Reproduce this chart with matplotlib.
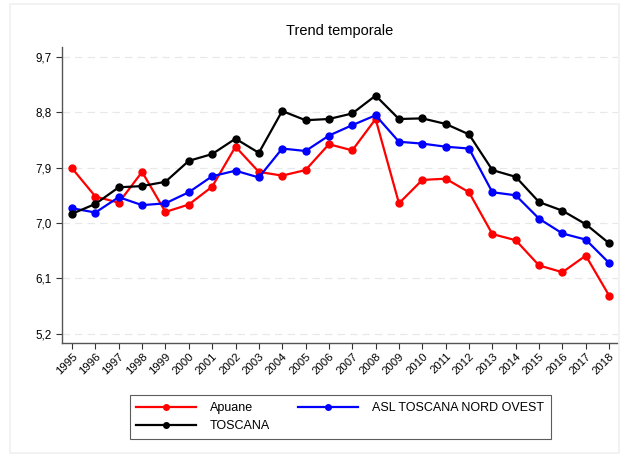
import matplotlib.pyplot as plt
import matplotlib.patches as mpatches
from matplotlib.ticker import FuncFormatter

plt.rcParams["font.family"] = ["Liberation Sans", "DejaVu Sans"]

years = list(range(1995, 2019))

apuane = [7.89, 7.43, 7.33, 7.83, 7.18, 7.30, 7.59, 8.24, 7.83, 7.77, 7.86, 8.28,
          8.18, 8.69, 7.32, 7.70, 7.72, 7.50, 6.82, 6.72, 6.31, 6.20, 6.47, 5.82]
asl_nord_ovest = [7.24, 7.17, 7.42, 7.29, 7.32, 7.50, 7.76, 7.85, 7.74, 8.21, 8.17, 8.42,
                  8.59, 8.75, 8.32, 8.29, 8.24, 8.21, 7.50, 7.45, 7.07, 6.83, 6.73, 6.35]
toscana = [7.15, 7.31, 7.58, 7.60, 7.67, 8.01, 8.12, 8.37, 8.14, 8.82, 8.67, 8.69,
           8.78, 9.07, 8.69, 8.70, 8.61, 8.44, 7.86, 7.75, 7.34, 7.20, 6.98, 6.67]

y_ticks = [5.2, 6.1, 7.0, 7.9, 8.8, 9.7]

W, H = 623, 457
fig = plt.figure(figsize=(W / 100, H / 100), dpi=100)
fig.patch.set_facecolor("white")

# faint outer border like the Stata graph region
fig.add_artist(mpatches.Rectangle((10 / W, 4 / H), (W - 14) / W, (H - 8) / H,
                                  transform=fig.transFigure, fill=False,
                                  edgecolor="#eef0f2", linewidth=1.2))

ax = fig.add_axes([62 / W, 1 - 343 / H, (618 - 62) / W, (343 - 47) / H])

line_kw = dict(linewidth=1.6, marker="o", markersize=5)
h1, = ax.plot(years, apuane, color="#ff0000", label="Apuane", **line_kw)
h2, = ax.plot(years, asl_nord_ovest, color="#0000ff", label="ASL TOSCANA NORD OVEST", **line_kw)
h3, = ax.plot(years, toscana, color="black", label="TOSCANA", **line_kw)

ax.set_xlim(1994.57, 2018.38)
ax.set_ylim(5.05, 9.86)
ax.set_yticks(y_ticks)
ax.yaxis.set_major_formatter(FuncFormatter(lambda v, p: f"{v:.1f}".replace(".", ",")))
ax.set_xticks(years)
ax.set_xticklabels([str(y) for y in years], rotation=45, ha="right",
                   rotation_mode="anchor", fontsize=8.2)
ax.tick_params(axis="y", labelsize=8.4, length=4, width=0.8, color="#333333")
ax.tick_params(axis="x", length=4, width=0.8, color="#333333", pad=2)

ax.grid(axis="y", linestyle=(0, (6, 4)), color="#e8e8e8", linewidth=0.9)
ax.set_axisbelow(True)

for side in ["top", "right"]:
    ax.spines[side].set_visible(False)
for side in ["left", "bottom"]:
    ax.spines[side].set_color("#555555")
    ax.spines[side].set_linewidth(1.0)

ax.set_title("Trend temporale", fontsize=10.5, pad=9)

leg = fig.legend([h1, h3, h2], ["Apuane", "TOSCANA", "ASL TOSCANA NORD OVEST"],
                 ncol=2, loc="center", bbox_to_anchor=(340 / W, 1 - 417 / H),
                 fontsize=9, frameon=True, fancybox=False, handlelength=4.8,
                 columnspacing=2.2, handletextpad=1.1, borderpad=0.55,
                 labelspacing=0.5)
leg.get_frame().set_edgecolor("#333333")
leg.get_frame().set_linewidth(0.8)
for lh in leg.get_lines():
    lh.set_markersize(4)

fig.savefig("out.png", dpi=100)
